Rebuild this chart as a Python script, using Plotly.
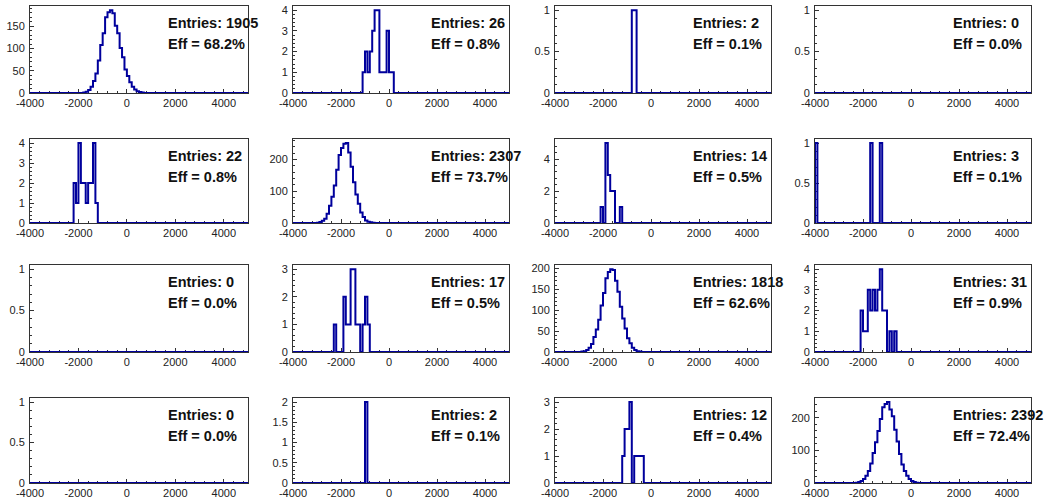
import numpy as np
import plotly.graph_objects as go

# ---------------- data ----------------
BIN_WIDTH = 100
X_MIN, X_MAX = -4000, 5000

entries = [1905, 26, 2, 0, 22, 2307, 14, 3, 0, 17, 1818, 31, 0, 2, 12, 2392]
eff = ["68.2", "0.8", "0.1", "0.0", "0.8", "73.7", "0.5", "0.1",
       "0.0", "0.5", "62.6", "0.9", "0.0", "0.1", "0.4", "72.4"]

# lower edge of each non-empty bin, and its content
h1_bins = list(range(-1800, 700, 100))
h1_counts = [1, 3, 7, 14, 27, 44, 73, 108, 134, 170, 181, 186, 179, 151, 134, 101, 80, 53, 38, 24, 14, 8, 4, 2, 1]
h2_bins = list(range(-1100, 200, 100))
h2_counts = [1, 2, 1, 2, 3, 4, 4, 1, 1, 1, 3, 1, 1]
h3_bins = [-800, -700]
h3_counts = [1, 1]
h4_bins = []
h4_counts = []
h5_bins = list(range(-2200, -1200, 100))
h5_counts = [2, 1, 4, 2, 2, 1, 2, 2, 4, 1]
h6_bins = list(range(-3000, -600, 100))
h6_counts = [1, 3, 7, 13, 29, 54, 83, 118, 168, 214, 236, 250, 252, 222, 177, 128, 90, 61, 33, 19, 8, 4, 2, 1]
h7_bins = [-2100, -1900, -1800, -1700, -1600, -1300]
h7_counts = [1, 5, 3, 2, 2, 1]
h8_bins = [-4000, -1700, -1300]
h8_counts = [1, 1, 1]
h9_bins = []
h9_counts = []
h10_bins = [-2300, -1900, -1800, -1700, -1600, -1500, -1400, -1300, -1100, -1000, -900]
h10_counts = [1, 2, 1, 1, 3, 3, 1, 1, 1, 2, 1]
h11_bins = list(range(-2900, -400, 100))
h11_counts = [1, 2, 5, 10, 19, 36, 54, 77, 111, 141, 176, 191, 198, 196, 170, 144, 108, 80, 56, 33, 21, 10, 5, 2, 1]
h12_bins = [-2100, -2000, -1900, -1800, -1700, -1600, -1500, -1400, -1300, -1200, -1100, -900, -700]
h12_counts = [2, 1, 1, 3, 2, 3, 2, 3, 4, 2, 2, 1, 1]
h13_bins = []
h13_counts = []
h14_bins = [-1000]
h14_counts = [2]
h15_bins = [-1200, -1100, -1000, -900, -700, -600, -500, -400]
h15_counts = [1, 2, 2, 3, 1, 1, 1, 1]
h16_bins = list(range(-2300, 300, 100))
h16_counts = [1, 3, 6, 12, 22, 37, 60, 92, 125, 160, 197, 233, 243, 249, 226, 205, 164, 128, 89, 57, 37, 22, 12, 6, 3, 1]

hist_bins = [h1_bins, h2_bins, h3_bins, h4_bins, h5_bins, h6_bins, h7_bins, h8_bins,
             h9_bins, h10_bins, h11_bins, h12_bins, h13_bins, h14_bins, h15_bins, h16_bins]
hist_counts = [h1_counts, h2_counts, h3_counts, h4_counts, h5_counts, h6_counts, h7_counts, h8_counts,
               h9_counts, h10_counts, h11_counts, h12_counts, h13_counts, h14_counts, h15_counts, h16_counts]

y_major = [50, 1, 0.5, 0.5, 1, 100, 2, 0.5, 0.5, 1, 50, 1, 0.5, 0.5, 1, 100]
x_tickvals = [-4000, -2000, 0, 2000, 4000]
x_ticktext = ["-4000", "-2000", "0", "2000", "4000"]

# ---------------- layout (pixels) ----------------
W, H = 1047, 498
col_left = [30, 293, 555, 815]
col_right = [248, 509, 771, 1031]
row_top = [6, 139, 265, 398]
row_bottom = [93, 223, 352, 483]

LINE = "#00009c"
FRAME = "#333333"
TICKFONT = dict(family="Liberation Sans, Arial, sans-serif", size=11, color="#222222")

edges = np.arange(X_MIN, X_MAX + BIN_WIDTH, BIN_WIDTH)
nb = len(edges) - 1

fig = go.Figure()
layout = {}
annotations = []
for i in range(16):
    r, c = divmod(i, 4)
    n = "" if i == 0 else str(i + 1)
    content = np.zeros(nb)
    for b, v in zip(hist_bins[i], hist_counts[i]):
        content[int(round((b - X_MIN) / BIN_WIDTH))] += v
    xs = np.concatenate([[edges[0]], edges[:-1], [edges[-1]]])
    ys = np.concatenate([[0], content, [0]])
    fig.add_trace(go.Scatter(x=xs, y=ys, mode="lines", line=dict(color=LINE, width=2, shape="hv"),
                             xaxis="x" + n, yaxis="y" + n, showlegend=False, hoverinfo="skip"))
    ymax = content.max() * 1.05 if content.max() > 0 else 1.05
    layout["xaxis" + n] = dict(
        domain=[col_left[c] / W, col_right[c] / W], anchor="y" + n, range=[X_MIN, X_MAX],
        automargin=False,
        showgrid=False, zeroline=False, showline=True, mirror=True, linecolor=FRAME, linewidth=1,
        ticks="inside", ticklen=4, tickcolor=FRAME, tickvals=x_tickvals, ticktext=x_ticktext,
        tickfont=TICKFONT, layer="below traces",
        minor=dict(ticks="inside", ticklen=2, tickcolor=FRAME, dtick=400, tick0=-4000, showgrid=False),
    )
    layout["yaxis" + n] = dict(
        domain=[1 - row_bottom[r] / H, 1 - row_top[r] / H], anchor="x" + n, range=[0, ymax],
        automargin=False,
        showgrid=False, zeroline=False, showline=True, mirror=True, linecolor=FRAME, linewidth=1,
        ticks="inside", ticklen=4, tickcolor=FRAME, dtick=y_major[i], tick0=0,
        tickfont=TICKFONT, layer="below traces", ticklabelstandoff=2,
        minor=dict(ticks="inside", ticklen=2, tickcolor=FRAME, dtick=y_major[i] / 5, tick0=0, showgrid=False),
    )
    tx = (col_left[c] + 136) / W
    annotations.append(dict(x=tx, y=1 - (row_top[r] + 17) / H, xref="paper", yref="paper",
                            text=f"Entries: {entries[i]}", showarrow=False, xanchor="left", yanchor="middle",
                            font=dict(family="Liberation Sans, Arial, sans-serif", size=14.5, color="#111111",
                                      weight="bold")))
    annotations.append(dict(x=tx, y=1 - (row_top[r] + 38) / H, xref="paper", yref="paper",
                            text=f"Eff = {eff[i]}%", showarrow=False, xanchor="left", yanchor="middle",
                            font=dict(family="Liberation Sans, Arial, sans-serif", size=14.5, color="#111111",
                                      weight="bold")))

fig.update_layout(**layout)
fig.update_layout(width=W, height=H, margin=dict(l=0, r=0, t=0, b=0, autoexpand=False),
                  paper_bgcolor="white", plot_bgcolor="white", annotations=annotations)

fig.write_html("out.html", config={"displayModeBar": False},
               post_script="document.body.style.margin='0';document.body.style.overflow='hidden';")
